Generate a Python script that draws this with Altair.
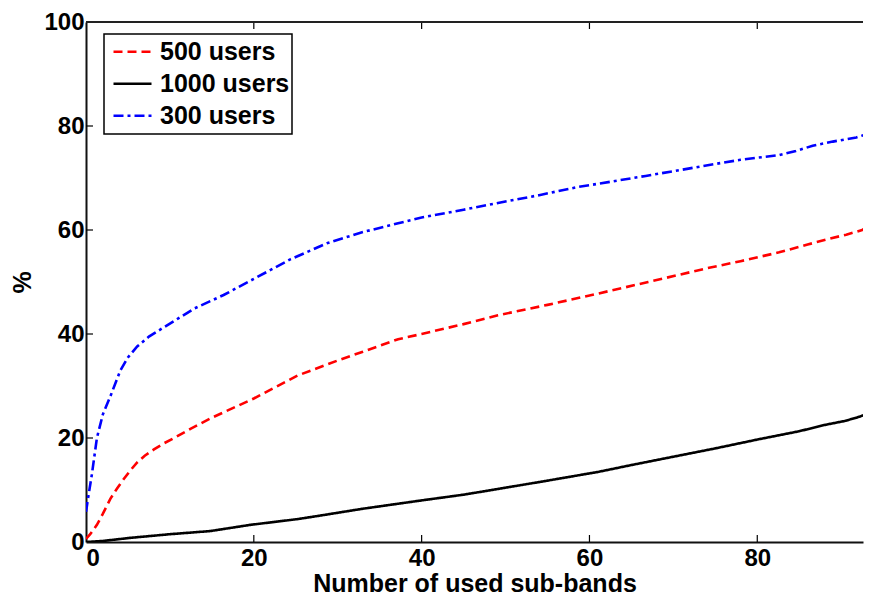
import altair as alt
import pandas as pd

# ---- data ----
series_names = ["500 users", "1000 users", "300 users"]
series_colors = ["#ff0000", "#000000", "#0000ff"]

x_300 = [0, 0.3, 0.7, 1.3, 2.0, 2.9, 4.1, 5.0, 6.1, 7.5, 9.3, 11.0, 12.9, 16.4, 20.0, 24.4, 28.8, 33.0, 37.2, 40.0, 45.0, 49.1, 54.0, 58.7, 61.1, 66.7, 70.0, 74.6, 78.0, 82.6, 84.6, 86.6, 89.0, 91.8, 93.6]
y_300 = [5.8, 9.0, 13.0, 20.0, 24.5, 28.0, 33.0, 35.5, 37.6, 39.5, 41.3, 43.0, 44.9, 47.5, 50.6, 54.4, 57.5, 59.6, 61.3, 62.4, 63.9, 65.2, 66.7, 68.3, 68.9, 70.4, 71.3, 72.6, 73.5, 74.4, 75.2, 76.2, 77.0, 77.8, 78.7]

x_500 = [0, 0.5, 1.3, 2.0, 2.9, 3.7, 4.5, 5.3, 6.1, 7.0, 8.1, 9.2, 10.5, 12.5, 15.0, 20.0, 25.2, 30.0, 33.0, 37.2, 40.0, 45.0, 49.1, 55.0, 61.1, 67.0, 73.9, 78.0, 82.6, 86.0, 88.5, 90.6, 92.5, 93.6]
y_500 = [0.6, 1.5, 3.3, 5.4, 8.3, 10.3, 12.1, 13.8, 15.3, 16.6, 17.8, 18.9, 20.0, 21.8, 23.9, 27.6, 32.0, 34.9, 36.6, 39.0, 40.0, 41.9, 43.6, 45.6, 47.8, 50.0, 52.6, 54.0, 55.7, 57.2, 58.3, 59.1, 60.0, 61.0]

x_1000 = [0, 2.0, 5.3, 10.0, 14.8, 19.6, 25.2, 27.6, 33.0, 40.0, 45.0, 49.1, 55.0, 61.1, 65.0, 70.0, 75.0, 80.0, 85.0, 88.0, 90.5, 92.2, 93.0, 93.6]
y_1000 = [0.0, 0.2, 0.8, 1.5, 2.1, 3.3, 4.4, 5.0, 6.4, 8.0, 9.1, 10.2, 11.8, 13.5, 14.8, 16.4, 18.0, 19.7, 21.3, 22.5, 23.3, 24.1, 24.6, 25.3]

x_ticks = [0, 20, 40, 60, 80]
y_ticks = [0, 20, 40, 60, 80, 100]
x_max = 92.6
y_max = 100

# ---- build table ----
rows = []
for name, xs, ys in [("500 users", x_500, y_500), ("1000 users", x_1000, y_1000), ("300 users", x_300, y_300)]:
    for i, (a, b) in enumerate(zip(xs, ys)):
        rows.append({"series": name, "x": a, "y": b, "order": i})
df = pd.DataFrame(rows)

FONT = "Liberation Sans"

xscale = alt.Scale(domain=[0, x_max], nice=False, zero=False)
yscale = alt.Scale(domain=[0, y_max], nice=False)

legend_spec = alt.Legend(labelExpr="datum.label + '\u00a0\u00a0'")

lines = alt.Chart(df).mark_line(strokeWidth=2.6, clip=True).encode(
    x=alt.X("x:Q", scale=xscale,
            axis=alt.Axis(values=x_ticks, title="Number of used sub-bands", ticks=False, tickSize=0,
                          labelPadding=4, titlePadding=1, grid=False, format="d")),
    y=alt.Y("y:Q", scale=yscale,
            axis=alt.Axis(values=y_ticks, title="%", ticks=False, tickSize=0,
                          labelPadding=2, titlePadding=8, grid=False, format="d")),
    color=alt.Color("series:N", scale=alt.Scale(domain=series_names, range=series_colors),
                    title=None, legend=legend_spec),
    strokeDash=alt.StrokeDash("series:N", scale=alt.Scale(domain=series_names, range=[[9, 5], [1, 0], [10, 4, 3, 4]]),
                              title=None, legend=legend_spec),
    order="order:Q",
)

tick_df_x = pd.DataFrame({"t": x_ticks[1:]})
tick_df_y = pd.DataFrame({"t": y_ticks[1:-1]})

# inward tick marks (MATLAB style), positioned through the data scales
bottom_ticks = alt.Chart(tick_df_x).mark_rule(color="black", strokeWidth=1.2).encode(
    x=alt.X("t:Q", scale=xscale),
    y=alt.YValue(alt.ExprRef("height")),
    y2=alt.Y2Value(alt.ExprRef("height - 7")),
)
top_ticks = alt.Chart(tick_df_x).mark_rule(color="black", strokeWidth=1.2).encode(
    x=alt.X("t:Q", scale=xscale), y=alt.value(0), y2=alt.value(7))
left_ticks = alt.Chart(tick_df_y).mark_rule(color="black", strokeWidth=1.2).encode(
    y=alt.Y("t:Q", scale=yscale), x=alt.value(0), x2=alt.value(7))
top_border = alt.Chart(pd.DataFrame({"a": [0]})).mark_rule(color="#222222", strokeWidth=2).encode(
    x=alt.value(0), x2=alt.X2Value(alt.ExprRef("width")), y=alt.value(0))

chart = alt.layer(bottom_ticks, top_ticks, left_ticks, top_border, lines).properties(
    width=856, height=588,
    padding={"top": 2, "bottom": 0, "left": 2, "right": 0},
    autosize=alt.AutoSizeParams(type="fit", contains="padding"),
).configure_view(stroke=None).configure_axis(
    domainColor="#111111", domainWidth=2,
    labelFont=FONT, labelFontSize=24, labelFontWeight="bold", labelColor="black",
    titleFont=FONT, titleFontSize=25, titleFontWeight="bold", titleColor="black",
).configure_legend(
    orient="none", legendX=18, legendY=12, padding=2,
    fillColor="white", strokeColor="black", strokeWidth=1.5, cornerRadius=0,
    symbolType="stroke", symbolSize=1444, symbolStrokeWidth=2.5, symbolOffset=6,
    labelFont=FONT, labelFontSize=25, labelFontWeight="bold", labelColor="black",
    labelOffset=7, rowPadding=0, clipHeight=31.5, labelLimit=400,
)

chart.save("out.html", embed_options={"renderer": "svg", "actions": False})
